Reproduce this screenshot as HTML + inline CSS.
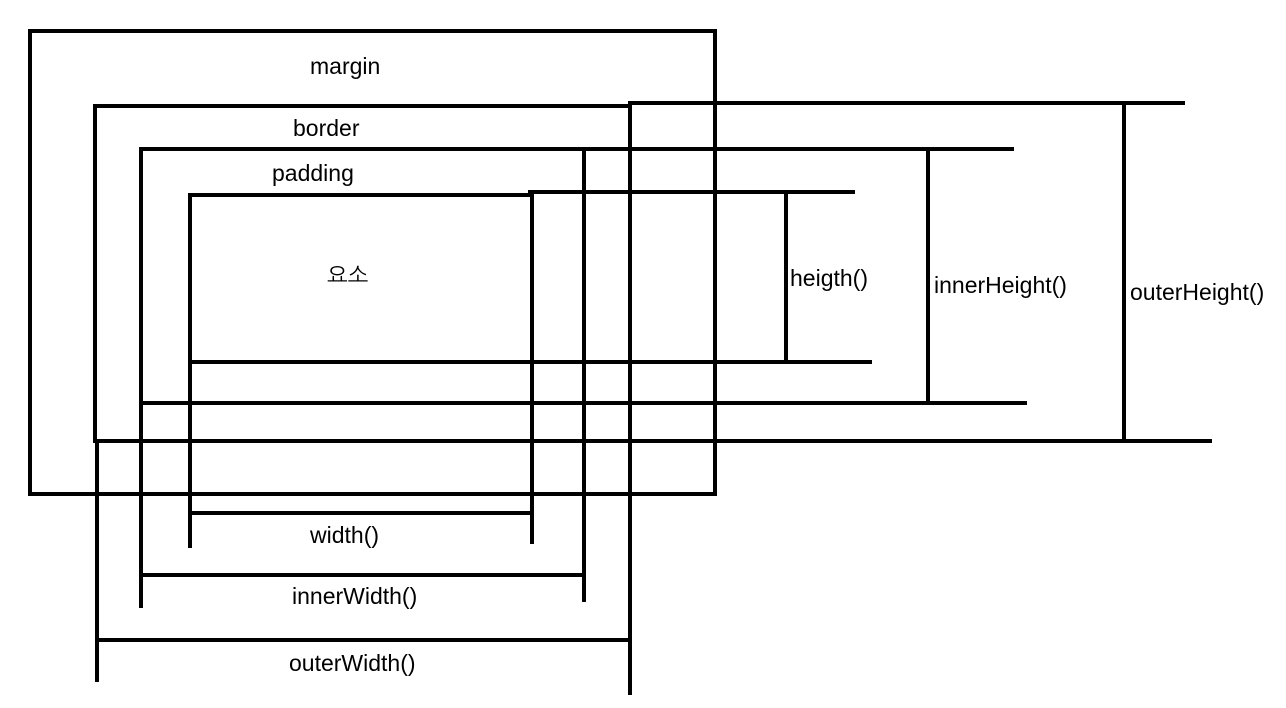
<!DOCTYPE html>
<html><head><meta charset="utf-8"><style>
html,body{margin:0;padding:0;background:#fff;}
svg{display:block}
text{font-family:"Liberation Sans","NanumGothic","Noto Sans CJK KR",sans-serif;font-size:23px;fill:#000;dominant-baseline:middle}
</style></head><body>
<svg width="1286" height="708" viewBox="0 0 1286 708">
<g stroke="#000" stroke-width="4" fill="none" stroke-linecap="square">
<rect x="30" y="31" width="685" height="463"/>
<line x1="95" y1="106" x2="630" y2="106"/>
<line x1="630" y1="103" x2="1183" y2="103"/>
<line x1="95" y1="106" x2="95" y2="441"/>
<line x1="95" y1="441" x2="1210" y2="441"/>
<line x1="97" y1="441" x2="97" y2="680"/>
<line x1="630" y1="103" x2="630" y2="693"/>
<line x1="141" y1="149" x2="1012" y2="149"/>
<line x1="141" y1="149" x2="141" y2="606"/>
<line x1="584" y1="149" x2="584" y2="600"/>
<line x1="141" y1="403" x2="1025" y2="403"/>
<line x1="190" y1="195" x2="530" y2="195"/>
<line x1="530" y1="192" x2="853" y2="192"/>
<line x1="190" y1="195" x2="190" y2="546"/>
<line x1="532" y1="192" x2="532" y2="542"/>
<line x1="190" y1="362" x2="870" y2="362"/>
<line x1="190" y1="513" x2="532" y2="513"/>
<line x1="141" y1="575" x2="584" y2="575"/>
<line x1="97" y1="640" x2="630" y2="640"/>
<line x1="786" y1="192" x2="786" y2="360"/>
<line x1="928" y1="149" x2="928" y2="400"/>
<line x1="1124" y1="103" x2="1124" y2="440"/>
</g>
<text x="310" y="68">margin</text>
<text x="293" y="130">border</text>
<text x="272" y="175">padding</text>
<text x="327" y="277" style="font-size:22px">요소</text>
<text x="790" y="280">heigth()</text>
<text x="934" y="287">innerHeight()</text>
<text x="1130" y="294">outerHeight()</text>
<text x="310" y="537">width()</text>
<text x="292" y="598">innerWidth()</text>
<text x="289" y="665">outerWidth()</text>
</svg>
</body></html>
